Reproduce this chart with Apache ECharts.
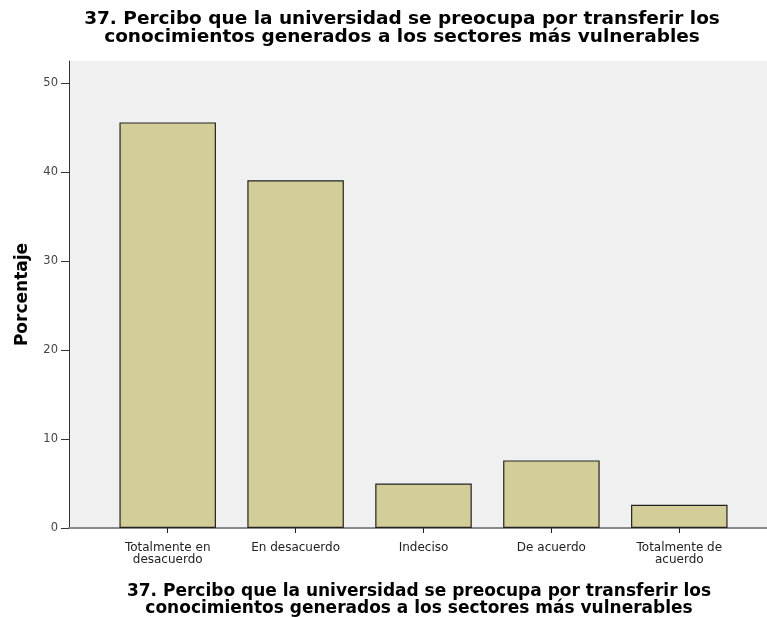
<!DOCTYPE html>
<html>
<head>
<meta charset="utf-8">
<script src="https://cdn.jsdelivr.net/npm/echarts@6/dist/echarts.min.js"></script>
<style>
  html, body { margin: 0; padding: 0; background: #ffffff; }
  #chart { width: 767px; height: 617px; }
</style>
</head>
<body>
<div id="chart"></div>
<script>
// Response categories and percentage of answers for item 37
const categories = ['Totalmente en\ndesacuerdo', 'En desacuerdo', 'Indeciso', 'De acuerdo', 'Totalmente de\nacuerdo'];
const percentages = [45.6, 39.1, 5.0, 7.6, 2.6];
const yTicks = [0, 10, 20, 30, 40, 50];
const titleText = '37. Percibo que la universidad se preocupa por transferir los\nconocimientos generados a los sectores más vulnerables';

const chart = echarts.init(document.getElementById('chart'), null, { renderer: 'canvas' });

const Y_MAX = 52.5;
const font = 'DejaVu Sans, sans-serif';

chart.setOption({
  animation: false,
  backgroundColor: '#ffffff',
  title: {
    text: titleText,
    left: 397,
    top: 5,
    textAlign: 'center',
    textStyle: {
      fontFamily: font,
      fontWeight: 'bold',
      fontSize: 18.5,
      lineHeight: 18,
      color: '#000000',
      align: 'center'
    }
  },
  grid: [
    // frame of the plotting area
    { left: 69, right: -2, top: 61, bottom: 89, show: true, backgroundColor: '#f0f0f0', borderWidth: 0, outerBoundsMode: 'none' },
    // band layout for the bars
    { left: 103.75, width: 639.5, top: 61, bottom: 89, outerBoundsMode: 'none' }
  ],
  xAxis: [
    {
      gridIndex: 0, type: 'value', min: 0, max: 1,
      axisLine: { show: true, onZero: false, lineStyle: { color: '#444444', width: 1 } },
      axisTick: { show: false }, axisLabel: { show: false }, splitLine: { show: false },
      name: titleText,
      nameLocation: 'middle',
      nameGap: 55,
      nameTextStyle: {
        fontFamily: font, fontWeight: 'bold', fontSize: 17, lineHeight: 17, color: '#000000', align: 'center'
      }
    },
    {
      gridIndex: 1, type: 'category', data: categories, boundaryGap: true,
      axisLine: { show: false },
      axisTick: { show: true, alignWithLabel: true, length: 5, lineStyle: { color: '#222222' } },
      axisLabel: { fontFamily: font, fontSize: 12, lineHeight: 12, color: '#222222', margin: 14, interval: 0 }
    },
    {
      // top border of the frame
      gridIndex: 0, type: 'value', min: 0, max: 1, position: 'top',
      axisLine: { show: true, lineStyle: { color: '#8a8a8a', width: 2 } },
      axisTick: { show: false }, axisLabel: { show: false }, splitLine: { show: false }
    }
  ],
  yAxis: [
    {
      gridIndex: 0, type: 'value', min: 0, max: Y_MAX, interval: 10,
      axisLine: { show: true, lineStyle: { color: '#333333', width: 1 } },
      axisTick: { show: true, length: 8, lineStyle: { color: '#333333' },
        customValues: yTicks },
      axisLabel: { fontFamily: font, fontSize: 11.5, color: '#444444', margin: 11,
        customValues: yTicks },
      splitLine: { show: false },
      name: 'Porcentaje',
      nameLocation: 'middle',
      nameGap: 38,
      nameTextStyle: { fontFamily: font, fontWeight: 'bold', fontSize: 17, color: '#000000' }
    },
    {
      gridIndex: 1, type: 'value', min: 0, max: Y_MAX, show: false
    }
  ],
  series: [
    {
      type: 'bar',
      xAxisIndex: 1,
      yAxisIndex: 1,
      data: percentages,
      barWidth: 96.5,
      itemStyle: { color: '#d3ce97', borderColor: '#222222', borderWidth: 1.2 }
    }
  ]
});
</script>
</body>
</html>
